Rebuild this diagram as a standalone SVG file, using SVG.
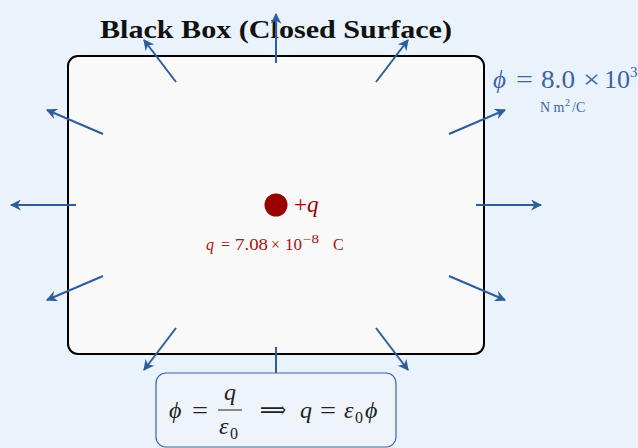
<svg xmlns="http://www.w3.org/2000/svg" width="638" height="448" viewBox="0 0 638 448">
<defs>
<marker id="ah" viewBox="0 0 10 10" refX="9" refY="5" markerWidth="5.5" markerHeight="5.5" orient="auto" markerUnits="strokeWidth">
<path d="M0,0 L10,5 L0,10 L3,5 Z" fill="#2e5d9c"/>
</marker>
</defs>
<style>
.ser{font-family:"Liberation Serif","DejaVu Serif",serif}
.ar{stroke:#2e5d9c;stroke-width:2;fill:none;marker-end:url(#ah)}
.fl{font-family:"Liberation Serif","DejaVu Serif",serif;fill:#3a64a6}
.ch{font-family:"Liberation Serif","DejaVu Serif",serif;fill:#aa1111}
</style>
<rect width="638" height="448" fill="#eaf3fb"/>
<g id="box">
<rect x="68" y="56" width="416" height="298" rx="10" fill="#f9f9f9" stroke="#000" stroke-width="2"/>
</g>
<g id="title">
<text class="ser" x="100" y="38" font-size="25" font-weight="bold" fill="#111" textLength="352" lengthAdjust="spacingAndGlyphs">Black Box (Closed Surface)</text>
</g>
<g id="charge">
<circle cx="276" cy="205" r="11.5" fill="#990000"/>
<text class="ser" x="294" y="212" font-size="23" fill="#990000"><tspan>+</tspan><tspan font-style="italic">q</tspan></text>
<g class="ch" font-size="16">
<text x="206" y="250" font-style="italic">q</text>
<text x="221" y="250">=</text>
<text x="235" y="250" textLength="33" lengthAdjust="spacingAndGlyphs">7.08</text>
<text x="271" y="250">×</text>
<text x="285" y="250" textLength="17" lengthAdjust="spacingAndGlyphs">10</text>
<text x="303" y="243" font-size="12" textLength="16" lengthAdjust="spacingAndGlyphs">−8</text>
<text x="333" y="250">C</text>
</g>
</g>
<g id="flux">
<g class="fl" font-size="25">
<text x="493" y="88" font-style="italic">ϕ</text>
<text x="516" y="88" textLength="17" lengthAdjust="spacingAndGlyphs">=</text>
<text x="541" y="88" textLength="34" lengthAdjust="spacingAndGlyphs">8.0</text>
<text x="583" y="88" textLength="17" lengthAdjust="spacingAndGlyphs">×</text>
<text x="604" y="88" textLength="26" lengthAdjust="spacingAndGlyphs">10</text>
<text x="630" y="77" font-size="15">3</text>
</g>
<g class="fl" font-size="14">
<text x="540" y="112">N m</text>
<text x="565" y="106" font-size="10">2</text>
<text x="572" y="112">/C</text>
</g>
</g>
<g id="connectors">
<line class="ar" x1="476" y1="205" x2="541" y2="205"/>
<line class="ar" x1="449" y1="134" x2="505" y2="110"/>
<line class="ar" x1="376" y1="82" x2="408" y2="40"/>
<line class="ar" x1="276" y1="63" x2="276" y2="14"/>
<line class="ar" x1="176" y1="82" x2="144" y2="40"/>
<line class="ar" x1="103" y1="134" x2="47" y2="110"/>
<line class="ar" x1="76" y1="205" x2="11" y2="205"/>
<line class="ar" x1="103" y1="276" x2="47" y2="300"/>
<line class="ar" x1="176" y1="328" x2="144" y2="370"/>
<line class="ar" x1="276" y1="347" x2="276" y2="396"/>
<line class="ar" x1="376" y1="328" x2="408" y2="370"/>
<line class="ar" x1="449" y1="276" x2="505" y2="300"/>
</g>
<g id="formula">
<rect x="156" y="373" width="240" height="74" rx="10" fill="#eff4fb" stroke="#3a64a6" stroke-width="1.2"/>
<g class="ser" font-size="24" fill="#222">
<text x="169" y="418" font-style="italic">ϕ</text>
<text x="192" y="418" textLength="16" lengthAdjust="spacingAndGlyphs">=</text>
<text x="230" y="400" text-anchor="middle" font-style="italic">q</text>
<line x1="218" y1="410" x2="242" y2="410" stroke="#222" stroke-width="1"/>
<text x="219" y="434" font-style="italic">ε</text>
<text x="230" y="439" font-size="16">0</text>
<text x="260" y="418" textLength="26" lengthAdjust="spacingAndGlyphs">⟹</text>
<text x="300" y="418" font-style="italic">q</text>
<text x="320" y="418" textLength="16" lengthAdjust="spacingAndGlyphs">=</text>
<text x="344" y="418" font-style="italic">ε</text>
<text x="355" y="423" font-size="16">0</text>
<text x="365" y="418" font-style="italic">ϕ</text>
</g>
</g>
</svg>
